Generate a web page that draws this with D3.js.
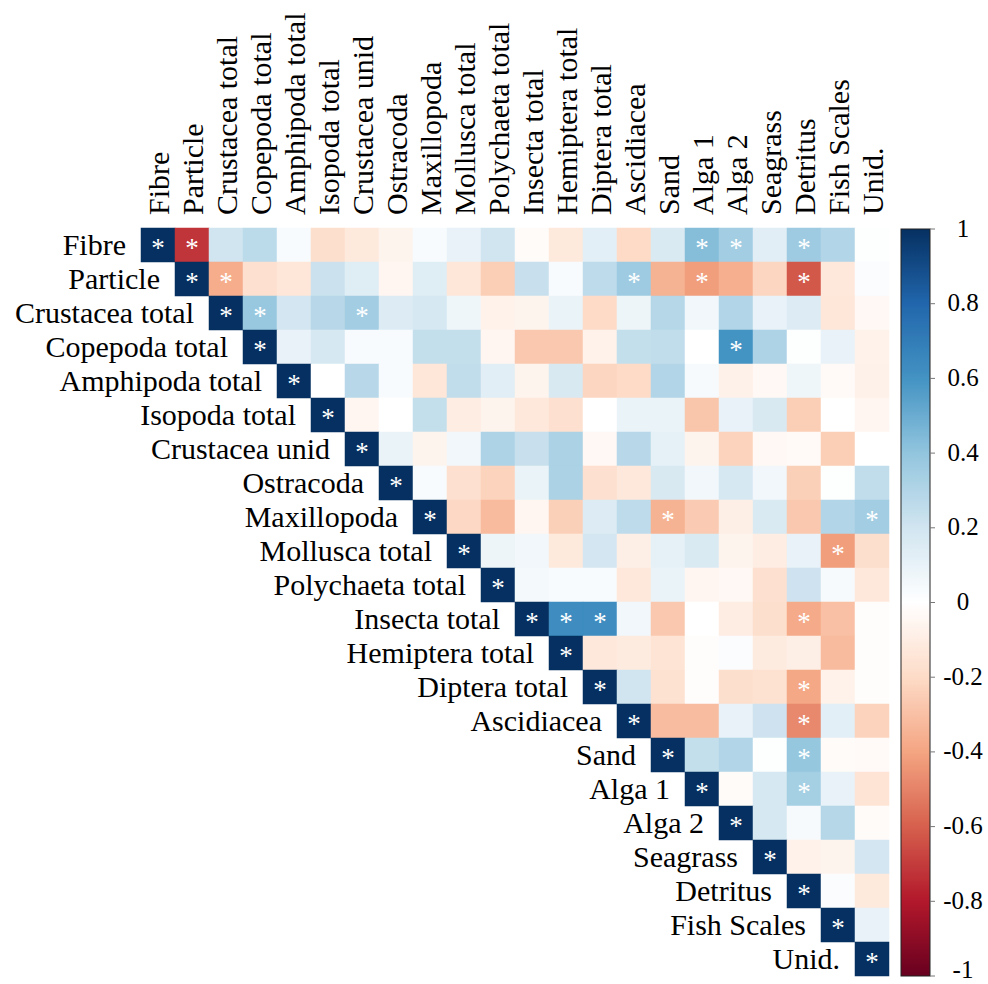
<!DOCTYPE html>
<html>
<head>
<meta charset="utf-8">
<script src="https://cdn.jsdelivr.net/npm/d3@7"></script>
<style>
  html, body { margin: 0; padding: 0; background: #ffffff; }
  svg { display: block; }
  text { font-family: "Liberation Serif", "Times New Roman", serif; fill: #000; }
</style>
</head>
<body>
<svg id="chart" width="988" height="984"></svg>
<script>
// ---- Data ----
const variables = ["Fibre", "Particle", "Crustacea total", "Copepoda total", "Amphipoda total",
  "Isopoda total", "Crustacea unid", "Ostracoda", "Maxillopoda", "Mollusca total",
  "Polychaeta total", "Insecta total", "Hemiptera total", "Diptera total", "Ascidiacea",
  "Sand", "Alga 1", "Alga 2", "Seagrass", "Detritus", "Fish Scales", "Unid."];

// upper-triangle correlations: each row lists values for the columns to the right of the diagonal
const rowFibre       = [-0.72, 0.2, 0.27, 0.03, -0.18, -0.12, -0.06, 0.03, 0.1, 0.2, -0.02, -0.12, 0.12, -0.2, 0.16, 0.43, 0.35, 0.13, 0.36, 0.3, 0.01];
const rowParticle    = [-0.37, -0.17, -0.14, 0.22, 0.14, -0.05, 0.14, -0.14, -0.25, 0.23, 0.03, 0.26, 0.36, -0.35, -0.42, -0.36, -0.22, -0.62, -0.13, 0.02];
const rowCrustacea   = [0.38, 0.19, 0.28, 0.35, 0.15, 0.18, 0.07, -0.07, -0.06, 0.09, -0.2, 0.08, 0.29, 0.06, 0.3, 0.1, 0.15, -0.14, -0.04];
const rowCopepoda    = [0.1, 0.18, 0.03, 0.03, 0.24, 0.24, -0.05, -0.27, -0.27, -0.07, 0.24, 0.25, 0.0, 0.6, 0.31, 0.01, 0.1, -0.07];
const rowAmphipoda   = [0.0, 0.28, 0.03, -0.14, 0.25, 0.13, -0.06, 0.17, -0.22, -0.2, 0.3, 0.04, -0.08, -0.04, 0.07, -0.03, -0.08];
const rowIsopoda     = [-0.05, 0.0, 0.24, -0.1, -0.06, -0.13, -0.17, 0.0, 0.09, 0.09, -0.28, 0.1, 0.17, -0.25, 0.0, -0.05];
const rowCrustUnid   = [0.09, -0.06, 0.06, 0.31, 0.23, 0.32, -0.04, 0.28, 0.11, -0.06, -0.23, -0.04, -0.03, -0.25, 0.0];
const rowOstracoda   = [0.03, -0.17, -0.23, 0.09, 0.32, -0.17, -0.13, 0.17, 0.06, 0.18, 0.06, -0.24, 0.01, 0.25];
const rowMaxillopoda = [-0.21, -0.32, -0.05, -0.24, 0.15, 0.26, -0.35, -0.26, -0.09, 0.16, -0.27, 0.3, 0.35];
const rowMollusca    = [0.08, 0.06, -0.12, 0.19, -0.09, 0.11, 0.16, -0.06, -0.1, 0.1, -0.42, -0.18];
const rowPolychaeta  = [0.05, 0.03, 0.03, -0.13, 0.09, -0.05, -0.04, -0.17, 0.21, 0.04, -0.13];
const rowInsecta     = [0.63, 0.63, 0.06, -0.27, 0.0, -0.1, -0.18, -0.38, -0.3, -0.01];
const rowHemiptera   = [-0.13, -0.11, -0.15, -0.01, 0.02, -0.11, -0.09, -0.32, -0.01];
const rowDiptera     = [0.2, -0.16, -0.01, -0.18, -0.16, -0.39, -0.07, -0.01];
const rowAscidiacea  = [-0.31, -0.31, 0.1, 0.21, -0.48, 0.12, -0.23];
const rowSand        = [0.24, 0.3, 0.01, 0.39, -0.02, -0.03];
const rowAlga1       = [-0.02, 0.18, 0.34, 0.1, -0.15];
const rowAlga2       = [0.18, 0.04, 0.29, -0.02];
const rowSeagrass    = [-0.07, -0.06, 0.19];
const rowDetritus    = [0.02, -0.12];
const rowFishScales  = [0.1];

// significant pairs (marked with *) besides the diagonal
const significantPairs = [
  ["Fibre", "Particle"], ["Fibre", "Alga 1"], ["Fibre", "Alga 2"], ["Fibre", "Detritus"],
  ["Particle", "Crustacea total"], ["Particle", "Ascidiacea"], ["Particle", "Alga 1"], ["Particle", "Detritus"],
  ["Crustacea total", "Copepoda total"], ["Crustacea total", "Crustacea unid"],
  ["Copepoda total", "Alga 2"],
  ["Maxillopoda", "Sand"], ["Maxillopoda", "Unid."],
  ["Mollusca total", "Fish Scales"],
  ["Insecta total", "Hemiptera total"], ["Insecta total", "Diptera total"], ["Insecta total", "Detritus"],
  ["Diptera total", "Detritus"], ["Ascidiacea", "Detritus"], ["Sand", "Detritus"], ["Alga 1", "Detritus"]
];

const legendTicks = [1, 0.8, 0.6, 0.4, 0.2, 0, -0.2, -0.4, -0.6, -0.8, -1];
const legendTickLabels = ["1", "0.8", "0.6", "0.4", "0.2", "0", "-0.2", "-0.4", "-0.6", "-0.8", "-1"];

// ---- Build cells ----
const upperRows = [rowFibre, rowParticle, rowCrustacea, rowCopepoda, rowAmphipoda, rowIsopoda,
  rowCrustUnid, rowOstracoda, rowMaxillopoda, rowMollusca, rowPolychaeta, rowInsecta, rowHemiptera,
  rowDiptera, rowAscidiacea, rowSand, rowAlga1, rowAlga2, rowSeagrass, rowDetritus, rowFishScales];

const sigSet = new Set(significantPairs.map(p => p[0] + "|" + p[1]));
const cells = [];
variables.forEach((rv, i) => {
  cells.push({row: rv, col: rv, value: 1, sig: true});
  if (i < upperRows.length) {
    upperRows[i].forEach((v, k) => {
      const cv = variables[i + 1 + k];
      cells.push({row: rv, col: cv, value: v, sig: sigSet.has(rv + "|" + cv)});
    });
  }
});

// ---- Scales ----
const svg = d3.select("#chart");
const x = d3.scaleBand().domain(variables).range([141, 889]).padding(0);
const y = d3.scaleBand().domain(variables).range([228, 976]).padding(0);

const color = d3.scaleLinear()
  .domain([-1, -0.8, -0.6, -0.4, -0.2, 0, 0.2, 0.4, 0.6, 0.8, 1])
  .range(["#67001F", "#B2182B", "#D6604D", "#F4A582", "#FDDBC7", "#FFFFFF",
          "#D1E5F0", "#92C5DE", "#4393C3", "#2166AC", "#053061"])
  .interpolate(d3.interpolateRgb);

// ---- Cells ----
svg.append("g").selectAll("rect").data(cells).join("rect")
  .attr("x", d => x(d.col))
  .attr("y", d => y(d.row))
  .attr("width", x.bandwidth())
  .attr("height", y.bandwidth())
  .attr("fill", d => color(d.value))
  .attr("stroke", d => color(d.value))
  .attr("stroke-width", 0.5);

// ---- Significance marks ----
svg.append("g").selectAll("text").data(cells.filter(d => d.sig)).join("text")
  .attr("x", d => x(d.col) + x.bandwidth() / 2)
  .attr("y", d => y(d.row) + y.bandwidth() / 2 + 12)
  .attr("text-anchor", "middle")
  .style("font-size", "27px")
  .style("fill", "#ffffff")
  .text("*");

// ---- Row labels ----
svg.append("g").selectAll("text").data(variables).join("text")
  .attr("x", d => x(d) - 15)
  .attr("y", d => y(d) + y.bandwidth() / 2)
  .attr("dy", "0.32em")
  .attr("text-anchor", "end")
  .style("font-size", "30px")
  .text(d => d);

// ---- Column labels ----
svg.append("g").selectAll("text").data(variables).join("text")
  .attr("transform", d => `translate(${x(d) + x.bandwidth() / 2},${215}) rotate(-90)`)
  .attr("dy", "0.36em")
  .attr("text-anchor", "start")
  .style("font-size", "30px")
  .text(d => d);

// ---- Colour legend ----
const legY = d3.scaleLinear().domain([-1, 1]).range([976, 229]);
const legX0 = 901, legW = 29;
const defs = svg.append("defs");
const grad = defs.append("linearGradient").attr("id", "legGrad")
  .attr("x1", 0).attr("y1", 1).attr("x2", 0).attr("y2", 0);
d3.range(0, 101).forEach(k => {
  const v = -1 + 2 * k / 100;
  grad.append("stop").attr("offset", (k) + "%").attr("stop-color", color(v));
});
svg.append("rect")
  .attr("x", legX0).attr("y", legY(1))
  .attr("width", legW).attr("height", legY(-1) - legY(1))
  .attr("fill", "url(#legGrad)")
  .attr("stroke", "#222").attr("stroke-width", 1);

const lg = svg.append("g");
lg.selectAll("line").data(legendTicks).join("line")
  .attr("x1", legX0 + legW).attr("x2", legX0 + legW + 5)
  .attr("y1", d => legY(d)).attr("y2", d => legY(d))
  .attr("stroke", "#777").attr("stroke-width", 1);
lg.selectAll("text").data(legendTicks).join("text")
  .attr("x", 963)
  .attr("y", d => Math.min(legY(d), 970))
  .attr("dy", "0.3em")
  .attr("text-anchor", "middle")
  .style("font-size", "25px")
  .text((d, i) => legendTickLabels[i]);
</script>
</body>
</html>
